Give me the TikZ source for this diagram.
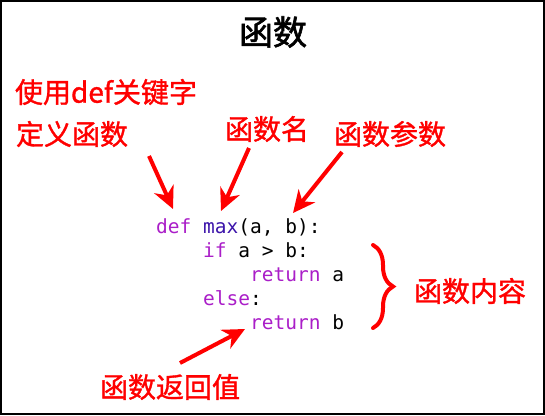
\documentclass[tikz,border=0pt]{standalone}
\usepackage{fontspec}
\usetikzlibrary{arrows.meta,decorations.pathreplacing}
\newfontfamily\cjk{Noto Sans CJK SC}[FakeBold=1.2]
\newfontfamily\cjkt{Noto Sans CJK SC}[FakeBold=1.8]
\newfontfamily\codefont{DejaVu Sans Mono}
\definecolor{kw}{RGB}{170,30,200}
\definecolor{fn}{RGB}{60,20,170}
\definecolor{lred}{RGB}{255,0,0}
\begin{document}
\begin{tikzpicture}[x=1pt,y=-1pt,
  lbl/.style={inner sep=0pt,text=lred,font=\cjk\fontsize{28}{30}\selectfont},
  code/.style={inner sep=0pt,anchor=base west,font=\codefont\fontsize{19.5}{22}\selectfont},
  arr/.style={draw=lred,line width=4pt,-{Stealth[length=22pt,width=21pt,inset=7pt]}}]
\useasboundingbox (0,0) rectangle (545,415);
\draw[line width=2pt] (1,1) rectangle (544,414);
\node[inner sep=0pt,font=\cjkt\fontsize{34}{36}\selectfont] (title) at (273,32) {函数};
\node[lbl] (l1) at (106,92) {使用def关键字};
\node[lbl] (l2) at (72,134) {定义函数};
\node[lbl] (l3) at (267,129) {函数名};
\node[lbl] (l4) at (390,134) {函数参数};
\node[lbl] (l5) at (470,291) {函数内容};
\node[lbl] (l6) at (170,387) {函数返回值};
\node[code] (c1) at (156,233) {\textcolor{kw}{def} \textcolor{fn}{max}(a, b):};
\node[code] (c2) at (203,257) {\textcolor{kw}{if} a > b:};
\node[code] (c3) at (250,281) {\textcolor{kw}{return} a};
\node[code] (c4) at (203,305) {\textcolor{kw}{else}:};
\node[code] (c5) at (250,329) {\textcolor{kw}{return} b};
\coordinate (s1) at (149,156); \coordinate (e1) at (173,209);
\coordinate (s2) at (249,148); \coordinate (e2) at (221,211);
\coordinate (s3) at (342,152); \coordinate (e3) at (293,213);
\coordinate (s4) at (180,363); \coordinate (e4) at (245,329);
\draw[arr] (s1) -- (e1);
\draw[arr] (s2) -- (e2);
\draw[arr] (s3) -- (e3);
\draw[arr] (s4) -- (e4);
\coordinate (b1) at (373,245); \coordinate (b2) at (373,328);
\draw[lred,line width=4pt,line cap=round,decorate,decoration={brace,amplitude=20pt}] (b1) -- (b2);
\end{tikzpicture}
\end{document}
